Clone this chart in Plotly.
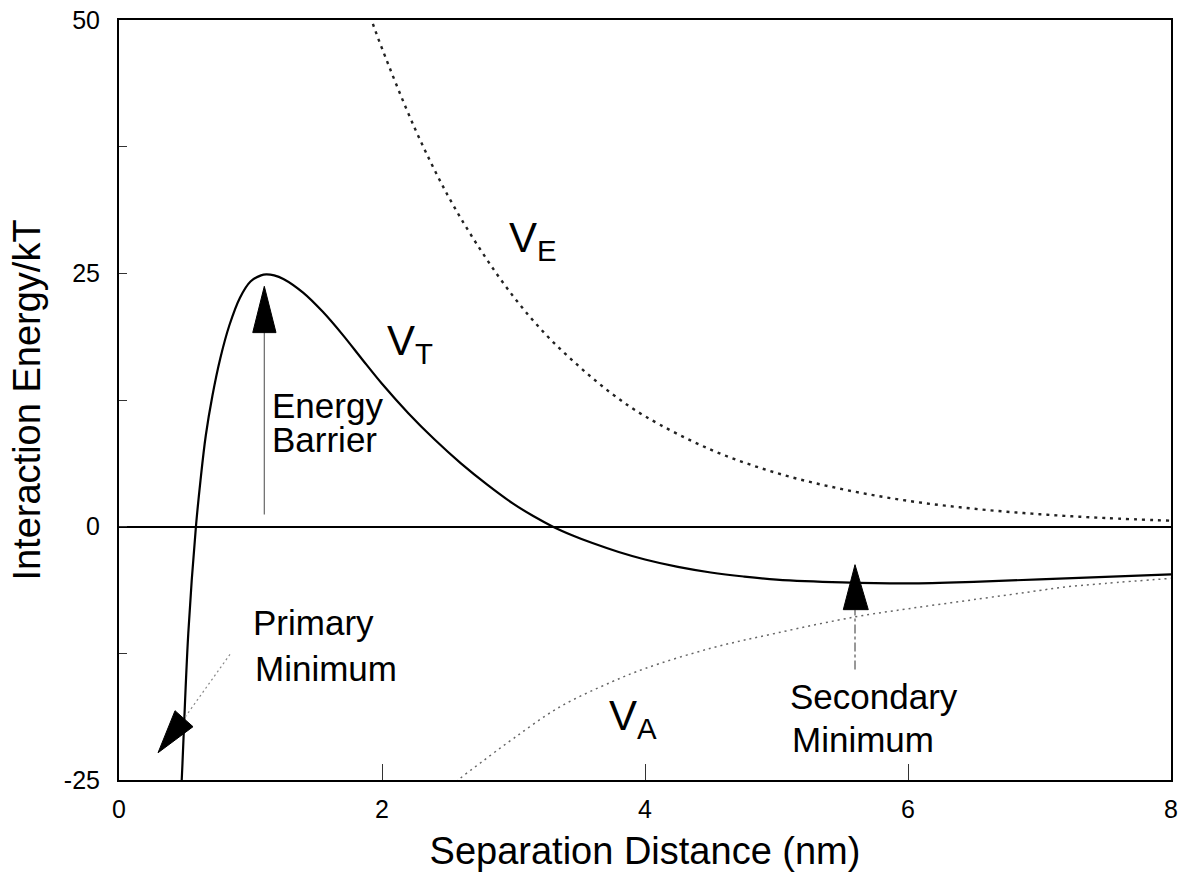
import plotly.graph_objects as go

# Separation distance (nm) and interaction energy (kT) for the three curves
x_total = [0.45, 0.477, 0.527, 0.585, 0.62, 0.66, 0.71, 0.77, 0.84, 0.92, 1.0, 1.08,
           1.12, 1.18, 1.25, 1.4, 1.55, 1.7, 1.85, 2.0, 2.2, 2.4, 2.6, 2.8, 3.0, 3.15,
           3.3, 3.45, 3.6, 3.8, 4.0, 4.25, 4.5, 4.75, 5.0, 5.5, 6.0, 6.5, 7.0, 7.5, 8.0]
v_total = [-32.0, -25.0, -10.5, 0.0, 4.6, 9.0, 12.9, 16.6, 19.9, 22.6, 24.2, 24.8,
           24.9, 24.8, 24.45, 23.1, 21.2, 18.95, 16.5, 14.1, 11.2, 8.6, 6.25, 4.15, 2.25, 1.05,
           0.0, -0.87, -1.62, -2.5, -3.24, -3.97, -4.52, -4.92, -5.22, -5.5, -5.6, -5.45,
           -5.2, -4.95, -4.7]

x_elec = [1.85, 1.92, 2.0, 2.25, 2.5, 2.75, 3.0, 3.25, 3.5, 3.75, 4.0, 4.5, 5.0,
          5.5, 6.0, 6.5, 7.0, 7.5, 8.0]
v_elec = [52.6, 50.0, 47.2, 39.3, 32.7, 27.3, 22.7, 18.9, 15.8, 13.1, 10.9, 7.6, 5.3,
          3.7, 2.55, 1.77, 1.23, 0.85, 0.59]

x_attr = [2.5, 2.58, 2.75, 3.0, 3.35, 3.75, 4.0, 4.5, 5.0, 5.6, 6.0, 6.5, 7.0, 7.16,
          7.5, 8.0]
v_attr = [-26.0, -25.0, -23.3, -20.9, -17.8, -15.3, -14.0, -12.0, -10.5, -8.9, -8.1,
          -7.2, -6.3, -6.0, -5.6, -5.1]

y_tick_vals = [-25, -12.5, 0, 12.5, 25, 37.5, 50]
y_tick_text = ["-25", "", "0", "", "25", "", "50"]
x_tick_vals = [0, 2, 4, 6, 8]
x_tick_text = ["0", "2", "4", "6", "8"]

FONT = "Arial, Liberation Sans, Helvetica, sans-serif"

fig = go.Figure()

fig.add_trace(go.Scatter(
    x=x_elec, y=v_elec, mode="lines", line_shape="spline",
    line=dict(color="#222222", width=2.4, dash="3px,5px"), hoverinfo="skip"))
fig.add_trace(go.Scatter(
    x=x_attr, y=v_attr, mode="lines", line_shape="spline",
    line=dict(color="#666666", width=1.5, dash="2px,4px"), hoverinfo="skip"))
fig.add_trace(go.Scatter(
    x=x_total, y=v_total, mode="lines", line_shape="spline",
    line=dict(color="black", width=2.2), hoverinfo="skip"))

shapes = [
    # Energy barrier arrow
    dict(type="line", x0=1.105, y0=1.2, x1=1.105, y1=19.2,
         line=dict(color="#666666", width=1.2)),
    dict(type="path", path="M 1.105 23.72 L 1.017 19.15 L 1.194 19.15 Z",
         fillcolor="black", line=dict(color="black", width=1)),
    # Secondary minimum arrow
    dict(type="line", x0=5.597, y0=-14.1, x1=5.597, y1=-8.2,
         line=dict(color="#555555", width=1.2, dash="dashdot")),
    dict(type="path", path="M 5.597 -3.75 L 5.508 -8.19 L 5.698 -8.19 Z",
         fillcolor="black", line=dict(color="black", width=1)),
    # Primary minimum arrow
    dict(type="line", x0=0.844, y0=-12.6, x1=0.494, y1=-18.95,
         line=dict(color="#888888", width=1.2, dash="2px,3px")),
    dict(type="path", path="M 0.297 -22.31 L 0.426 -18.16 L 0.563 -19.74 Z",
         fillcolor="black", line=dict(color="black", width=1)),
]

def label(text, x, y, size=35):
    return dict(text=text, x=x, y=y, xref="x", yref="y", showarrow=False,
                xanchor="left", yanchor="middle",
                font=dict(family=FONT, size=size, color="black"))

annotations = [
    label("Energy", 1.15, 12.0),
    label("Barrier", 1.15, 8.6),
    label("Primary", 1.005, -9.5),
    label("Minimum", 1.02, -14.0),
    label("Secondary", 5.09, -16.8),
    label("Minimum", 5.1, -21.0),
    label("V<sub>E</sub>", 2.95, 28.2, size=42),
    label("V<sub>T</sub>", 2.02, 18.1, size=42),
    label("V<sub>A</sub>", 3.71, -18.9, size=42),
]

fig.update_layout(
    width=1184, height=872,
    margin=dict(l=119, r=13, t=20, b=92),
    paper_bgcolor="white", plot_bgcolor="white",
    showlegend=False,
    font=dict(family=FONT, color="black"),
    shapes=shapes, annotations=annotations,
)

fig.update_xaxes(
    range=[0, 8], tickmode="array", tickvals=x_tick_vals, ticktext=x_tick_text,
    ticks="inside", ticklen=16, tickwidth=1, tickcolor="#333333",
    tickfont=dict(size=25, family=FONT), ticklabelstandoff=6,
    showline=True, linecolor="black", linewidth=2, mirror=True,
    showgrid=False, zeroline=False, automargin=False,
    title=dict(text="Separation Distance (nm)", font=dict(size=38, family=FONT), standoff=19),
)
fig.update_yaxes(
    range=[-25, 50], tickmode="array", tickvals=y_tick_vals, ticktext=y_tick_text,
    ticks="inside", ticklen=8, tickwidth=1, tickcolor="#333333",
    tickfont=dict(size=25, family=FONT), ticklabelstandoff=12,
    showline=True, linecolor="black", linewidth=2, mirror=True,
    showgrid=False, zeroline=True, zerolinecolor="black", zerolinewidth=1.6,
    automargin=False,
    title=dict(text="Interaction Energy/kT", font=dict(size=38, family=FONT), standoff=12),
)

fig.write_html("out.html")
